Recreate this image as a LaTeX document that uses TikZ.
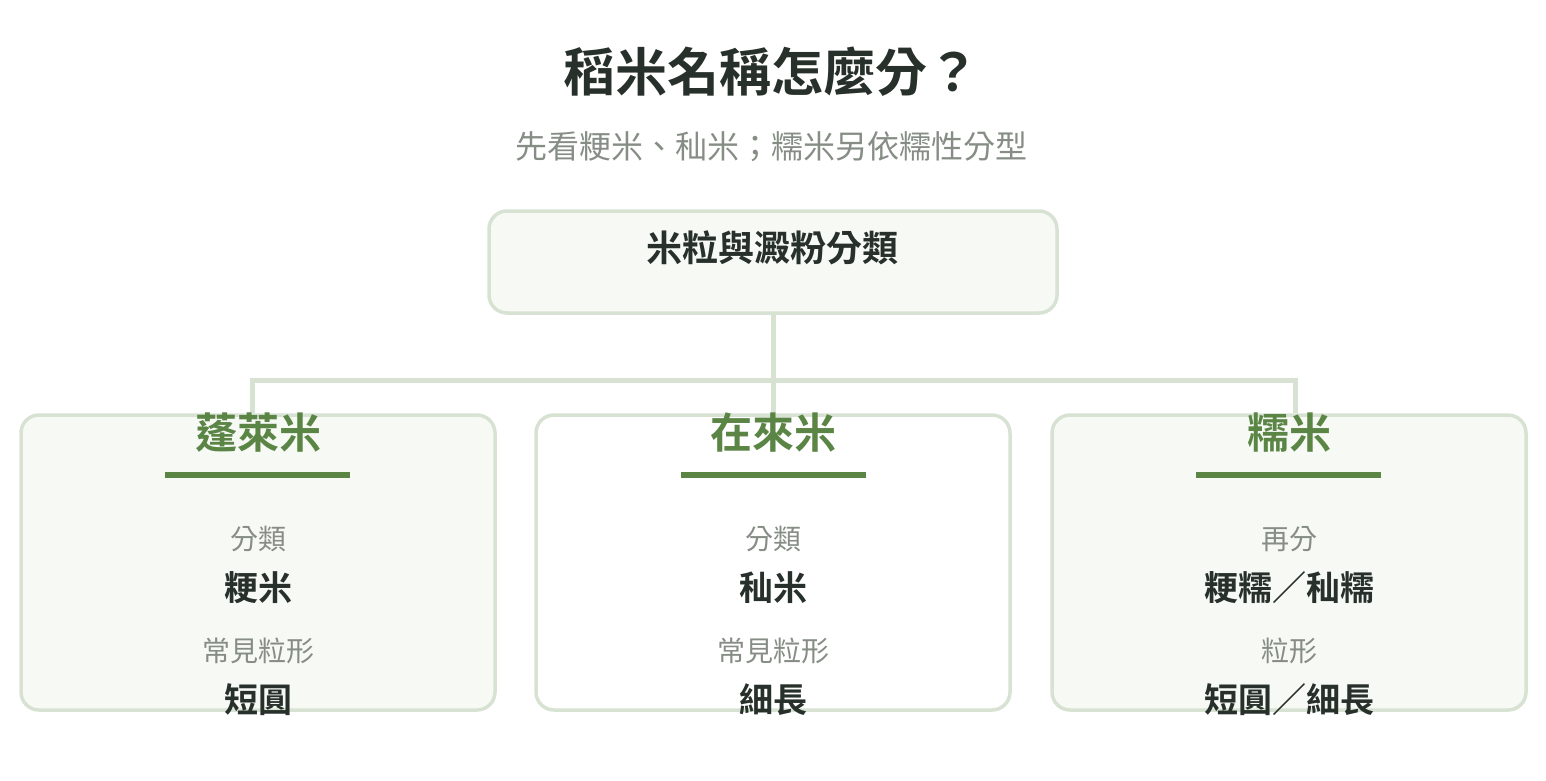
\documentclass[tikz,border=0pt]{standalone}
\usepackage{fontspec}
\setmainfont{Noto Sans CJK TC}[BoldFont={Noto Sans CJK TC Bold}]
\usetikzlibrary{positioning}
\definecolor{ink}{HTML}{27302A}
\definecolor{leaf}{HTML}{5A8545}
\definecolor{mute}{HTML}{858D85}
\definecolor{edge}{HTML}{D7E2D3}
\definecolor{pale}{HTML}{F7F9F5}

\begin{document}
\begin{tikzpicture}[x=1pt,y=-1pt,
    box/.style={rectangle,rounded corners=18pt,draw=edge,line width=3.5pt,minimum width=474pt,minimum height=295pt},
    rootbox/.style={rectangle,rounded corners=18pt,draw=edge,fill=pale,line width=3.5pt,minimum width=568pt,minimum height=102pt},
    link/.style={draw=edge,line width=5pt},
    kind/.style={text=leaf,font=\fontsize{42}{50}\selectfont\bfseries,inner sep=0pt},
    tag/.style={text=mute,font=\fontsize{28}{34}\selectfont,inner sep=0pt},
    val/.style={text=ink,font=\fontsize{34}{40}\selectfont\bfseries,inner sep=0pt}]
    \useasboundingbox (0,0) rectangle (1546,780);

    \node[text=ink,font=\fontsize{52}{62}\selectfont\bfseries] (title) at (771,72) {稻米名稱怎麼分？};
    \node[text=mute,font=\fontsize{32}{38}\selectfont] (sub) at (771,147) {先看粳米、秈米；糯米另依糯性分型};

    \node[rootbox] (root) at (773,262) {};
    \node[text=ink,font=\fontsize{36}{42}\selectfont\bfseries,inner sep=0pt] (rootlbl) at (772,248) {米粒與澱粉分類};

    \node[box,fill=pale] (japo) at (258,562.5) {};
    \node[box,fill=white] (indi) at (773,562.5) {};
    \node[box,fill=pale] (glut) at (1289,562.5) {};

    % connectors
    \coordinate (busL) at (252,380);
    \coordinate (busR) at (1295,380);
    \draw[link] (root.south) -- (indi.north);
    \draw[link] ([xshift=-6pt]japo.north) -- (busL) -- (busR) -- ([xshift=6pt]glut.north);

    % 蓬萊米
    \node[kind] (japoT) at (258,433) {蓬萊米};
    \draw[leaf,line width=6pt] (165,475) -- (350,475);
    \node[tag] (japoA) at (258,539) {分類};
    \node[val] (japoB) at (258,588) {粳米};
    \node[tag] (japoC) at (258,651) {常見粒形};
    \node[val] (japoD) at (258,700) {短圓};

    % 在來米
    \node[kind] (indiT) at (773,433) {在來米};
    \draw[leaf,line width=6pt] (681,475) -- (866,475);
    \node[tag] (indiA) at (773,539) {分類};
    \node[val] (indiB) at (773,588) {秈米};
    \node[tag] (indiC) at (773,651) {常見粒形};
    \node[val] (indiD) at (773,700) {細長};

    % 糯米
    \node[kind] (glutT) at (1289,433) {糯米};
    \draw[leaf,line width=6pt] (1196,475) -- (1381,475);
    \node[tag] (glutA) at (1289,539) {再分};
    \node[val] (glutB) at (1289,588) {粳糯／秈糯};
    \node[tag] (glutC) at (1289,651) {粒形};
    \node[val] (glutD) at (1289,700) {短圓／細長};
\end{tikzpicture}
\end{document}
